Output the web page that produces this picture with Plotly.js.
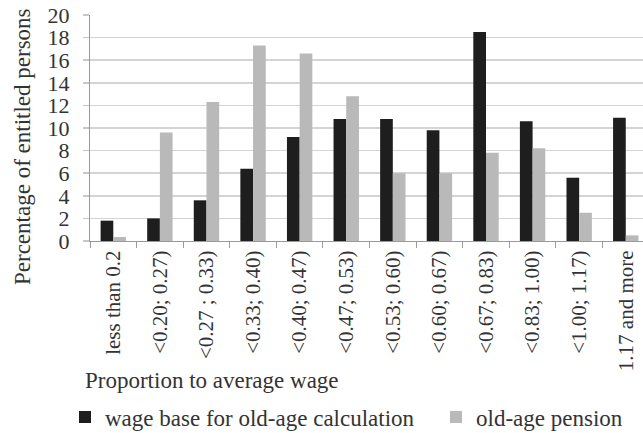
<!DOCTYPE html>
<html>
<head>
<meta charset="utf-8">
<script src="https://cdn.plot.ly/plotly-3.0.1.min.js"></script>
<style>html,body{margin:0;padding:0;background:#fff;overflow:hidden;}</style>
</head>
<body>
<div id="chart" style="width:643px;height:433px;"></div>
<script>
const categories = ["less than 0.2", "<0.20; 0.27)", "<0.27 ; 0.33)", "<0.33; 0.40)", "<0.40; 0.47)", "<0.47; 0.53)", "<0.53; 0.60)", "<0.60; 0.67)", "<0.67; 0.83)", "<0.83; 1.00)", "<1.00; 1.17)", "1.17 and more"];
const wageBase = [1.8, 2.0, 3.6, 6.4, 9.2, 10.8, 10.8, 9.8, 18.5, 10.6, 5.6, 10.9];
const pension = [0.35, 9.6, 12.3, 17.3, 16.6, 12.8, 6.0, 6.0, 7.8, 8.2, 2.5, 0.5];
const seriesNames = ["wage base for old-age calculation", "old-age pension"];
const yTicks = [0, 2, 4, 6, 8, 10, 12, 14, 16, 18, 20];

const serif = "Liberation Serif, serif";
const textColor = "#333333";

const traces = [
  {type: "bar", x: categories, y: wageBase, name: seriesNames[0], marker: {color: "#1e1e1e"}, legend: "legend"},
  {type: "bar", x: categories, y: pension, name: seriesNames[1], marker: {color: "#b9b9b9"}, legend: "legend2"}
];

const legendBase = {
  orientation: "h", xref: "container", yref: "container", xanchor: "left", yanchor: "middle",
  font: {family: serif, size: 23, color: textColor}, itemwidth: 30, bgcolor: "rgba(0,0,0,0)"
};

const layout = {
  width: 643, height: 433,
  margin: {l: 90, r: 0, t: 15, b: 192},
  paper_bgcolor: "#fff", plot_bgcolor: "#fff",
  font: {family: serif, color: textColor, size: 21},
  barmode: "group", bargap: 0.455, bargroupgap: 0,
  showlegend: true,
  legend: Object.assign({}, legendBase, {x: 65 / 643, y: (433 - 417) / 433}),
  legend2: Object.assign({}, legendBase, {x: 436 / 643, y: (433 - 417) / 433}),
  xaxis: {
    type: "category", range: [-0.5, 11.37], tickson: "boundaries",
    ticks: "outside", ticklen: 6, tickcolor: "#9a9a9a", tickwidth: 1,
    showline: true, linecolor: "#9a9a9a", linewidth: 1,
    tickangle: -90, tickfont: {family: serif, size: 21, color: textColor},
    showgrid: false, automargin: false
  },
  yaxis: {
    range: [0, 20], tickvals: yTicks, ticktext: yTicks.map(String),
    ticks: "outside", ticklen: 6, tickcolor: "#c8c8c8", tickwidth: 1.5,
    showline: true, linecolor: "#9a9a9a", linewidth: 1,
    gridcolor: "#d4d4d4", gridwidth: 1.6, zeroline: false,
    tickfont: {family: serif, size: 22, color: textColor},
    ticklabelstandoff: 9,
    automargin: false
  },
  annotations: [{
    text: "Proportion to average wage", xref: "paper", yref: "paper",
    x: (83 - 90) / 553, xanchor: "left", y: (241 - 380) / 226, yanchor: "middle",
    showarrow: false, font: {family: serif, size: 23, color: textColor}
  }, {
    text: "Percentage of entitled persons", xref: "paper", yref: "paper",
    x: (22 - 90) / 553, xanchor: "center", y: (241 - 147) / 226, yanchor: "middle",
    textangle: -90, showarrow: false, font: {family: serif, size: 23, color: textColor}
  }]
};

Plotly.newPlot("chart", traces, layout, {displayModeBar: false, staticPlot: true});
</script>
</body>
</html>
